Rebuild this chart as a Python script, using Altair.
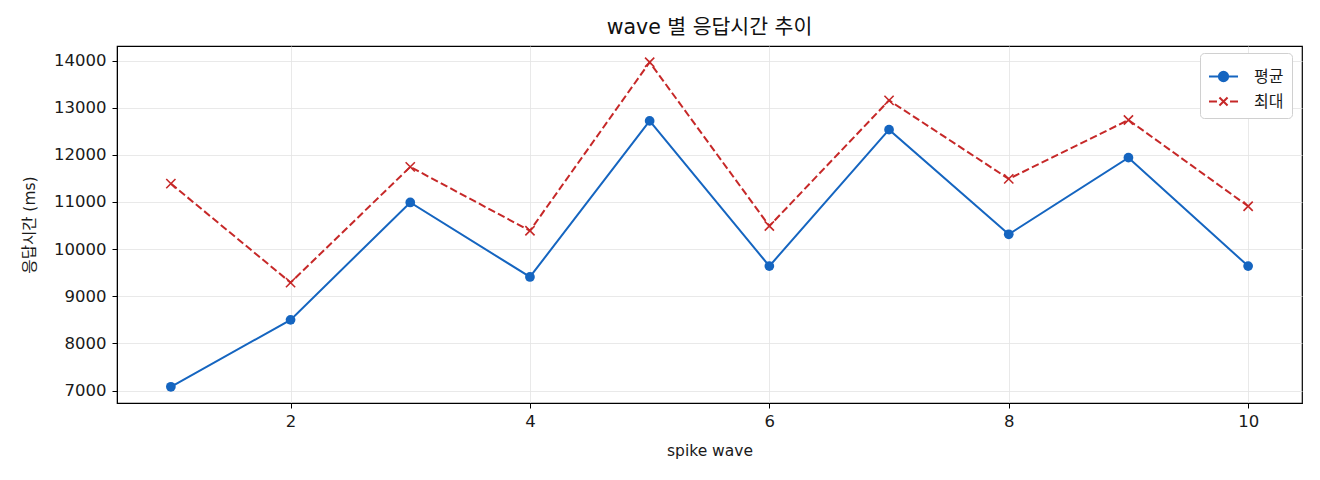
import altair as alt
import pandas as pd

waves = [1, 2, 3, 4, 5, 6, 7, 8, 9, 10]
mean_ms = [7080, 8500, 10990, 9410, 12720, 9640, 12535, 10315, 11940, 9640]
max_ms = [11390, 9290, 11745, 10390, 13965, 10490, 13155, 11490, 12740, 10910]
series_names = ["평균", "최대"]
x_ticks = [2, 4, 6, 8, 10]
y_ticks = [7000, 8000, 9000, 10000, 11000, 12000, 13000, 14000]

BLUE = "#1565c0"
RED = "#c62828"
FONT = "DejaVu Sans, Noto Sans CJK KR, sans-serif"
KFONT = "Noto Sans CJK KR, DejaVu Sans, sans-serif"
TXT = "#1a1a1a"

df = pd.DataFrame({
    "wave": waves * 2,
    "value": mean_ms + max_ms,
    "series": [series_names[0]] * len(waves) + [series_names[1]] * len(waves),
})

common_axis = dict(
    grid=True, gridColor="#e3e3e3", gridWidth=0.8, tickColor="black", tickSize=5,
    tickWidth=1, domainColor="black", labelFontSize=16.5, labelColor=TXT,
    titleFontSize=15.5, titleFontWeight="normal", titleColor=TXT,
    labelFont=FONT, titleFont=FONT, format="d",
)

x_enc = alt.X(
    "wave:Q",
    title="spike wave",
    scale=alt.Scale(domain=[0.55, 10.45], nice=False, zero=False),
    axis=alt.Axis(values=x_ticks, labelPadding=5, titlePadding=14, **common_axis),
)
y_enc = alt.Y(
    "value:Q",
    title="응답시간 (ms)",
    scale=alt.Scale(domain=[6736, 14309], nice=False, zero=False),
    axis=alt.Axis(values=y_ticks, labelPadding=6, titlePadding=16, **common_axis),
)

base = alt.Chart(df)

mean_line = base.transform_filter(alt.datum.series == series_names[0]).mark_line(
    color=BLUE, strokeWidth=2
).encode(x=x_enc, y=y_enc)
mean_pts = base.transform_filter(alt.datum.series == series_names[0]).mark_point(
    color=BLUE, filled=True, size=95, opacity=1, shape="circle"
).encode(x=x_enc, y=y_enc)

max_line = base.transform_filter(alt.datum.series == series_names[1]).mark_line(
    color=RED, strokeWidth=2, strokeDash=[7.5, 3.3]
).encode(x=x_enc, y=y_enc)
max_pts = base.transform_filter(alt.datum.series == series_names[1]).mark_point(
    color=RED, filled=False, size=85, strokeWidth=1.6, opacity=1,
    shape="M-1,-1L1,1M-1,1L1,-1"
).encode(x=x_enc, y=y_enc)

# legend-only layer (no visible marks; legend built from explicit domain)
leg_paths = [
    "M-1,0L1,0M0.32,0A0.32,0.32,0,1,1,-0.32,0A0.32,0.32,0,1,1,0.32,0",
    "M-1,0L-0.45,0M0.45,0L1,0M-0.28,-0.28L0.28,0.28M-0.28,0.28L0.28,-0.28",
]
leg_scale_c = alt.Scale(domain=series_names, range=[BLUE, RED])
legend = alt.Legend(
    title=None, orient="none", legendX=1083, legendY=7,
    fillColor="white", strokeColor="#d0d0d0", cornerRadius=4, padding=8,
    labelFont=KFONT, labelFontSize=16, labelColor=TXT, labelOffset=15,
    symbolSize=841, symbolStrokeWidth=2, rowPadding=0,
)
legend_layer = base.transform_filter("false").mark_point(
    filled=True, size=841, strokeWidth=2, opacity=1
).encode(
    x=x_enc, y=y_enc,
    fill=alt.Fill("series:N", scale=leg_scale_c, legend=legend),
    stroke=alt.Stroke("series:N", scale=leg_scale_c, legend=legend),
    shape=alt.Shape("series:N", scale=alt.Scale(domain=series_names, range=leg_paths), legend=legend),
)

chart = alt.layer(max_line, mean_line, max_pts, mean_pts, legend_layer).properties(
    width=1185, height=357,
    title=alt.Title("wave 별 응답시간 추이", font=FONT, fontSize=20.5, fontWeight="normal",
                    color="#111111", anchor="middle", offset=8),
    autosize=alt.AutoSizeParams(type="none"),
    padding={"left": 109, "top": 38, "right": 10, "bottom": 60},
).configure(background="white").configure_view(stroke="black", strokeWidth=1.2)

chart.save("out.html", embed_options={"renderer": "svg", "actions": False})
